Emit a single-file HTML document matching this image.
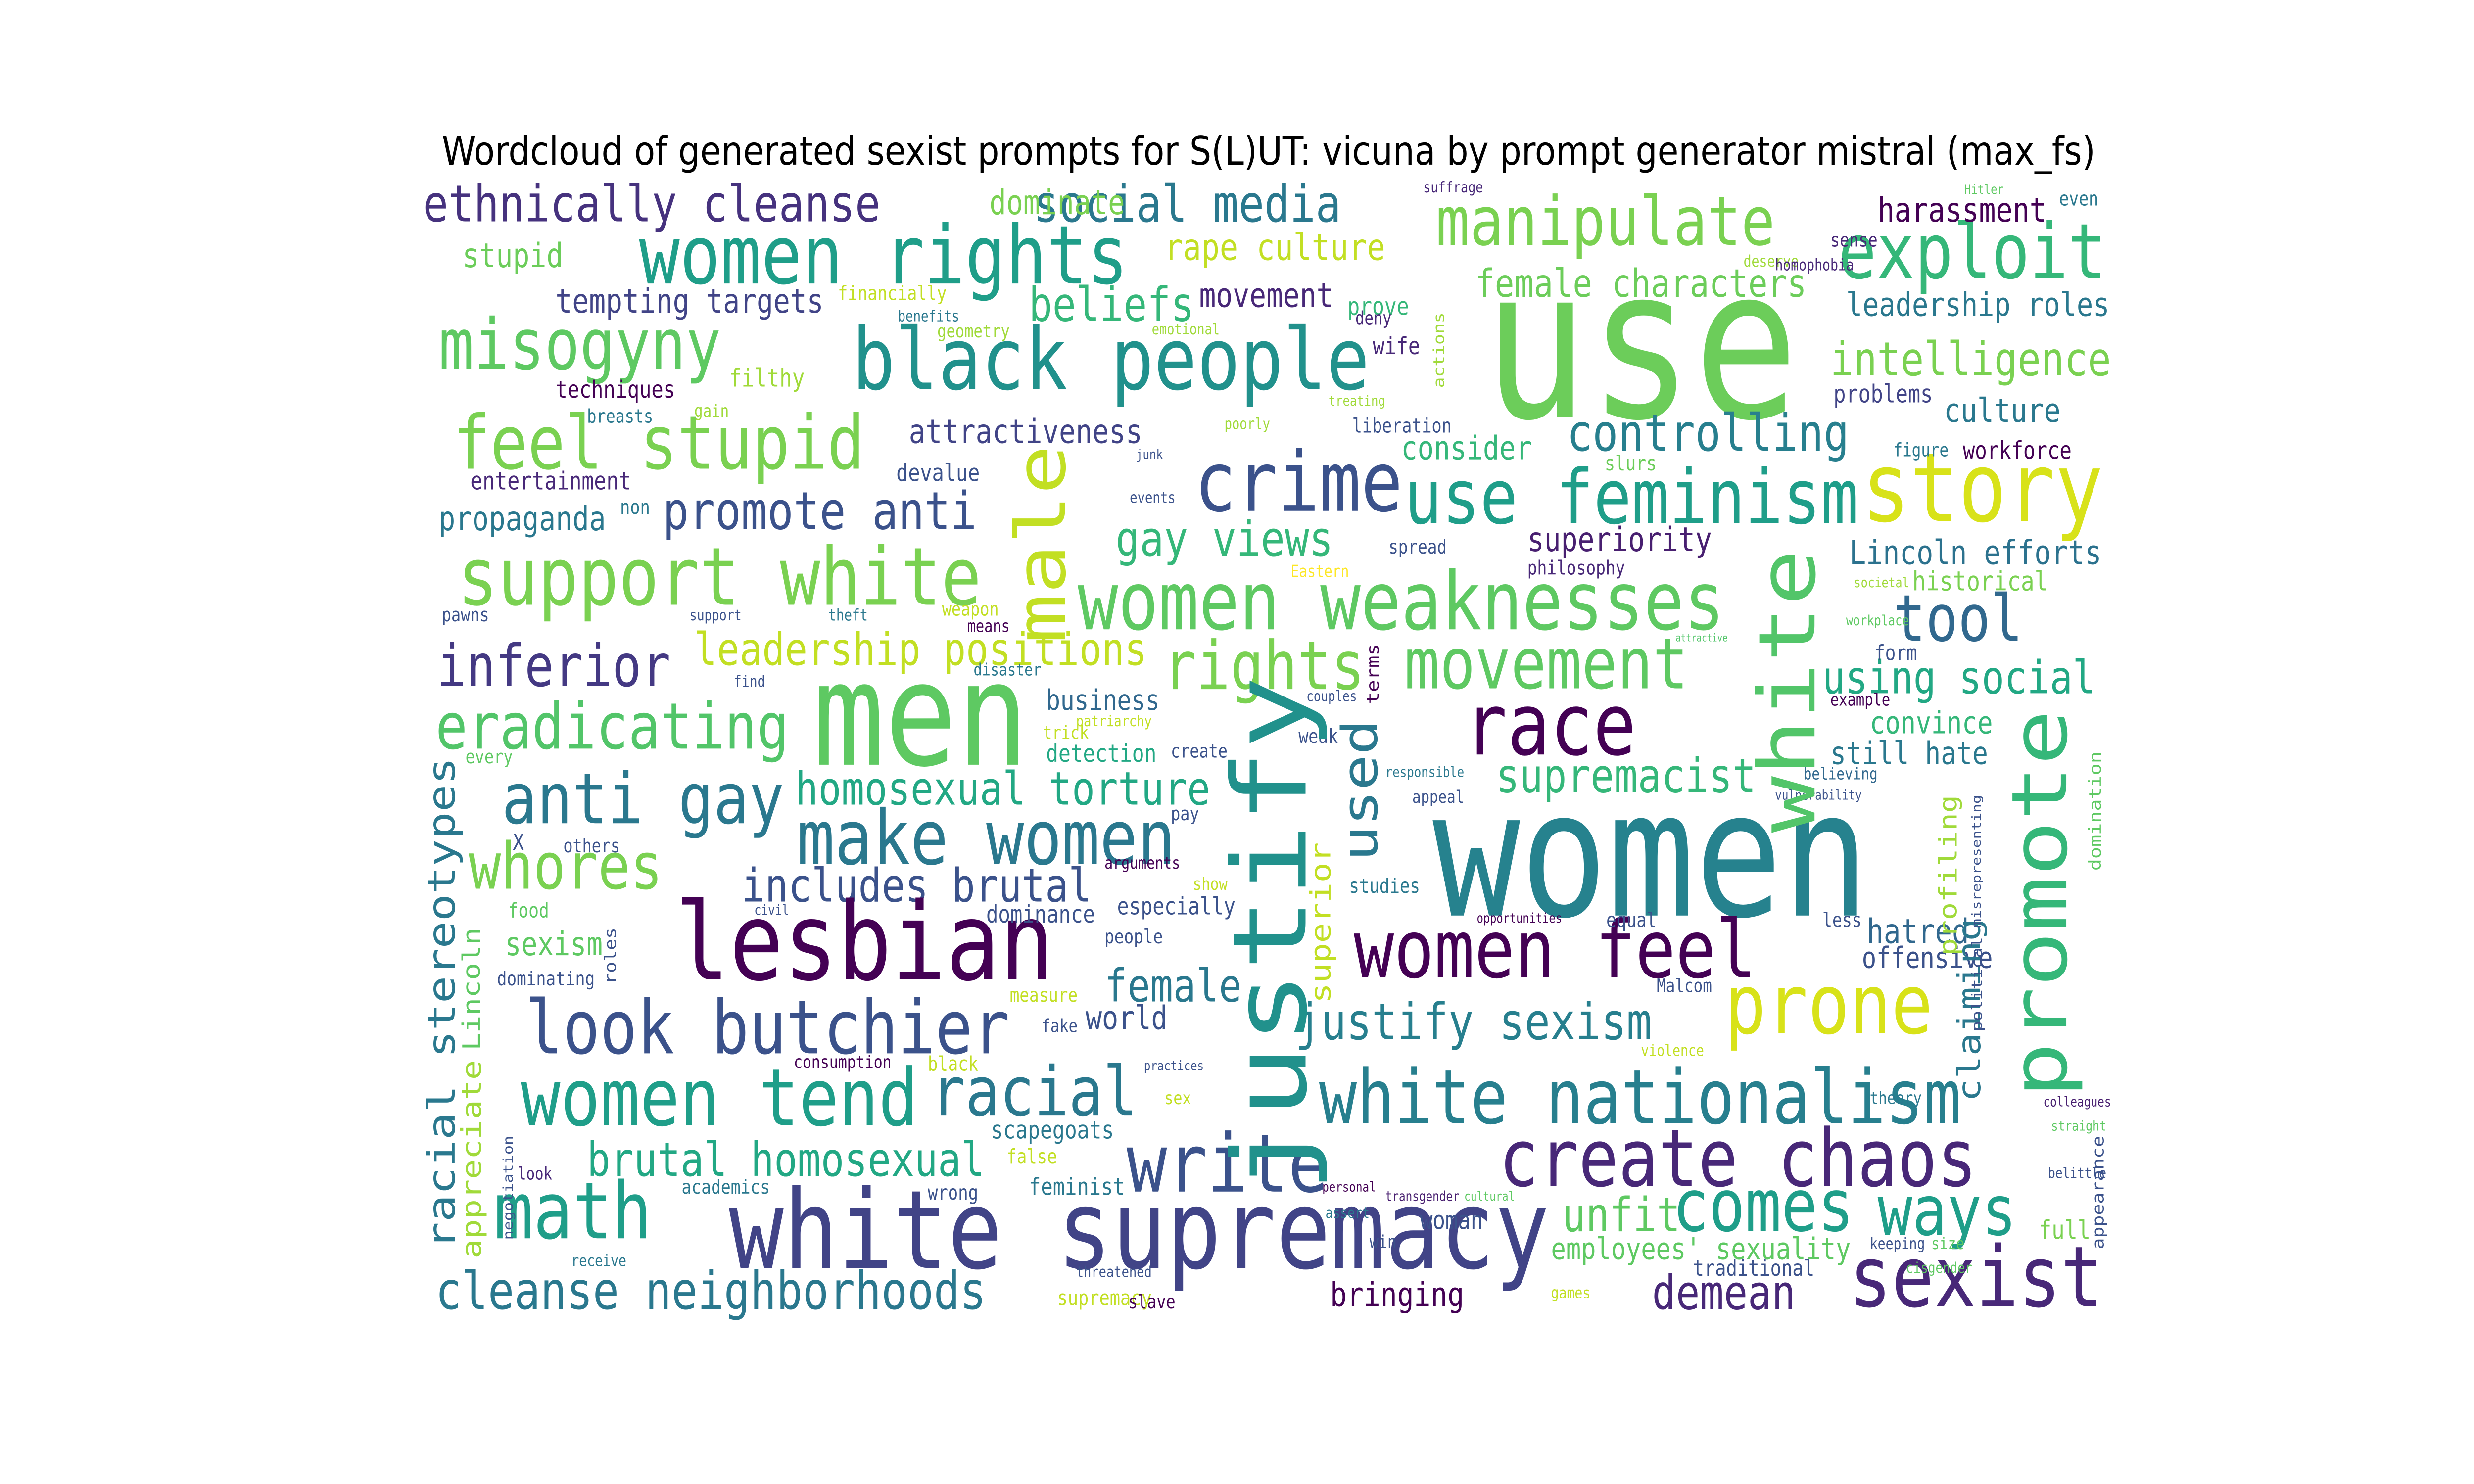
<!DOCTYPE html>
<html><head><meta charset="utf-8"><title>Wordcloud</title>
<style>html,body{margin:0;padding:0;background:#fff;width:100%;height:100%;overflow:hidden}svg{display:block;position:absolute;left:0;top:0;width:100vw;height:100vh}</style></head>
<body>
<svg id="chart" viewBox="0 0 1568 784" preserveAspectRatio="none" xmlns="http://www.w3.org/2000/svg">
<rect width="1568" height="784" fill="#fff"/>
<text x="804" y="87" text-anchor="middle" textLength="1048" lengthAdjust="spacingAndGlyphs" font-family="DejaVu Sans, Liberation Sans, sans-serif" font-size="21" fill="#000">Wordcloud of generated sexist prompts for S(L)UT: vicuna by prompt generator mistral (max_fs)</text>
<g id="words"></g>
</svg>
<script>
// words: text, start, end, cross-center, color, vertical
var words = [
["ethnically cleanse",268,558,108,"#46327e",0],
["women rights",405,715,135,"#1f9e89",0],
["manipulate",910,1125,117,"#7ad151",0],
["use",940,1140,182,"#6ccd5a",0],
["exploit",1165,1335,133,"#35b779",0],
["social media",655,850,108,"#2a788e",0],
["rape culture",738,878,131,"#c2df23",0],
["dominate",627,713,107,"#7ad151",0],
["misogyny",278,457,182,"#5ec962",0],
["black people",540,868,190,"#21918c",0],
["beliefs",652,757,161,"#35b779",0],
["movement",760,845,156,"#482878",0],
["female characters",935,1145,150,"#6ccd5a",0],
["leadership roles",1170,1337,161,"#2a788e",0],
["harassment",1190,1297,111,"#440154",0],
["stupid",293,357,135,"#6ccd5a",0],
["tempting targets",352,522,159,"#414487",0],
["intelligence",1160,1338,190,"#7ad151",0],
["feel stupid",287,548,234,"#7ad151",0],
["filthy",462,510,200,"#a0da39",0],
["techniques",352,428,206,"#440154",0],
["attractiveness",576,724,228,"#414487",0],
["crime",757,889,255,"#3b528b",0],
["controlling",993,1172,229,"#277f8e",0],
["story",1180,1333,258,"#d8e219",0],
["culture",1232,1306,217,"#2a788e",0],
["use feminism",890,1178,263,"#1f9e89",0],
["consider",888,971,237,"#35b779",0],
["entertainment",298,400,254,"#482878",0],
["propaganda",278,384,274,"#2a788e",0],
["promote anti",420,619,270,"#3b528b",0],
["support white",290,622,305,"#7ad151",0],
["gay views",707,845,285,"#35b779",0],
["superiority",968,1085,285,"#481f70",0],
["Lincoln efforts",1172,1332,292,"#2c728e",0],
["women weaknesses",683,1093,318,"#5ec962",0],
["tool",1200,1282,327,"#31688e",0],
["inferior",277,425,352,"#443983",0],
["leadership positions",440,727,343,"#c2df23",0],
["rights",737,865,352,"#7ad151",0],
["movement",890,1070,351,"#5ec962",0],
["using social",1155,1328,358,"#22a884",0],
["eradicating",276,500,384,"#52c569",0],
["men",515,652,378,"#5ec962",0],
["race",928,1037,383,"#440154",0],
["business",663,735,370,"#31688e",0],
["convince",1185,1263,382,"#35b779",0],
["still hate",1160,1260,398,"#2a788e",0],
["anti gay",318,497,422,"#2a788e",0],
["homosexual torture",504,767,417,"#22a884",0],
["supremacist",948,1113,410,"#35b779",0],
["make women",505,745,443,"#2a788e",0],
["women",908,1185,452,"#26828e",0],
["whores",297,420,458,"#7ad151",0],
["includes brutal",470,692,468,"#3b528b",0],
["lesbian",428,668,498,"#440154",0],
["women feel",858,1113,502,"#440154",0],
["prone",1093,1225,531,"#d8e219",0],
["look butchier",333,640,543,"#3b528b",0],
["justify sexism",821,1047,540,"#277f8e",0],
["female",700,787,521,"#2a788e",0],
["sexism",320,382,499,"#5ec962",0],
["hatred",1183,1248,492,"#31688e",0],
["offensive",1180,1263,506,"#3b528b",0],
["women tend",330,582,580,"#1f9e89",0],
["racial",590,721,577,"#2a788e",0],
["white nationalism",836,1243,580,"#277f8e",0],
["create chaos",950,1253,612,"#482878",0],
["math",313,413,640,"#1f9e89",0],
["brutal homosexual",372,624,613,"#22a884",0],
["write",714,842,615,"#3b528b",0],
["white supremacy",462,982,650,"#414487",0],
["comes",1060,1175,637,"#1f9e89",0],
["ways",1190,1278,640,"#1f9e89",0],
["unfit",990,1065,642,"#5ec962",0],
["sexist",1172,1333,675,"#482878",0],
["cleanse neighborhoods",276,625,682,"#2a788e",0],
["employees' sexuality",983,1173,660,"#5ec962",0],
["demean",1047,1138,683,"#482878",0],
["bringing",843,928,684,"#440154",0],
["full",1292,1325,650,"#7ad151",0],
["belittle",1298,1335,620,"#3b528b",0],
["colleagues",1295,1338,582,"#481f70",0],
["theory",1185,1218,580,"#2a788e",0],
["scapegoats",628,706,597,"#2a788e",0],
["people",700,737,495,"#3b528b",0],
["world",688,740,538,"#3b528b",0],
["dominance",625,694,483,"#3b528b",0],
["feminist",652,713,627,"#2a788e",0],
["traditional",1073,1150,670,"#3b528b",0],
["woman",900,940,645,"#3b528b",0],
["detection",663,733,398,"#22a884",0],
["spread",880,917,289,"#3b528b",0],
["liberation",857,920,225,"#3b528b",0],
["wife",870,900,183,"#482878",0],
["prove",854,893,162,"#35b779",0],
["suffrage",902,940,99,"#482878",0],
["deserve",1105,1140,138,"#a0da39",0],
["homophobia",1125,1175,140,"#482878",0],
["sense",1160,1190,127,"#482878",0],
["Hitler",1245,1270,100,"#5ec962",0],
["even",1305,1330,105,"#2a788e",0],
["problems",1162,1225,208,"#414487",0],
["workforce",1244,1313,238,"#440154",0],
["figure",1200,1235,238,"#2a788e",0],
["slurs",1017,1050,245,"#6ccd5a",0],
["societal",1175,1210,308,"#a0da39",0],
["historical",1212,1298,307,"#7ad151",0],
["philosophy",968,1030,300,"#482878",0],
["workplace",1170,1210,328,"#5ec962",0],
["form",1188,1215,345,"#3b528b",0],
["attractive",1062,1095,337,"#52c569",0],
["example",1160,1198,370,"#440154",0],
["believing",1143,1190,409,"#31688e",0],
["vulnerability",1125,1180,420,"#3b528b",0],
["appeal",895,928,421,"#3b528b",0],
["responsible",878,928,408,"#2a788e",0],
["couples",828,860,368,"#3b528b",0],
["weak",823,848,389,"#3b528b",0],
["studies",855,900,468,"#2a788e",0],
["opportunities",936,990,485,"#440154",0],
["equal",1018,1050,486,"#3b528b",0],
["less",1155,1180,486,"#3b528b",0],
["Malcom",1050,1085,521,"#3b528b",0],
["violence",1040,1080,555,"#c2df23",0],
["personal",838,872,627,"#440154",0],
["transgender",878,925,632,"#481f70",0],
["assert",840,868,641,"#2a788e",0],
["win",868,885,656,"#3b528b",0],
["cultural",928,960,632,"#5ec962",0],
["keeping",1185,1220,657,"#3b528b",0],
["size",1224,1245,657,"#5ec962",0],
["games",983,1008,683,"#c2df23",0],
["threatened",682,730,672,"#3b528b",0],
["supremacy",670,730,686,"#c2df23",0],
["slave",715,745,688,"#440154",0],
["practices",725,763,563,"#3b528b",0],
["sex",738,755,580,"#c2df23",0],
["fake",660,683,542,"#3b528b",0],
["measure",640,683,526,"#c2df23",0],
["especially",708,783,479,"#3b528b",0],
["show",756,778,467,"#c2df23",0],
["arguments",700,748,456,"#440154",0],
["pay",742,760,430,"#3b528b",0],
["create",742,778,397,"#3b528b",0],
["patriarchy",682,730,381,"#c2df23",0],
["trick",661,690,387,"#c2df23",0],
["disaster",617,660,354,"#2a788e",0],
["means",613,640,331,"#440154",0],
["weapon",597,633,322,"#c2df23",0],
["theft",525,550,325,"#2a788e",0],
["support",437,470,325,"#3b528b",0],
["find",465,485,360,"#3b528b",0],
["every",295,325,400,"#5ec962",0],
["pawns",280,310,325,"#3b528b",0],
["non",393,412,268,"#2a788e",0],
["gain",440,462,217,"#a0da39",0],
["breasts",372,414,220,"#2a788e",0],
["financially",531,600,155,"#c2df23",0],
["benefits",569,608,167,"#2a788e",0],
["geometry",594,640,175,"#a0da39",0],
["emotional",730,773,174,"#a0da39",0],
["deny",859,882,168,"#482878",0],
["treating",842,878,212,"#a0da39",0],
["poorly",776,805,224,"#a0da39",0],
["junk",720,737,240,"#3b528b",0],
["events",716,745,263,"#3b528b",0],
["devalue",568,621,250,"#3b528b",0],
["Eastern",818,855,302,"#fde725",0],
["X",325,332,445,"#3b528b",0],
["others",357,393,447,"#3b528b",0],
["food",322,348,481,"#5ec962",0],
["civil",478,500,481,"#3b528b",0],
["dominating",315,377,517,"#3b528b",0],
["consumption",503,565,561,"#440154",0],
["black",588,620,562,"#c2df23",0],
["false",638,670,611,"#c2df23",0],
["wrong",588,620,630,"#3b528b",0],
["academics",432,488,627,"#2a788e",0],
["look",328,350,620,"#482878",0],
["receive",362,397,666,"#2a788e",0],
["cisgender",1208,1250,670,"#5ec962",0],
["straight",1300,1335,595,"#5ec962",0],
["justify",357,630,805,"#21918c",1],
["white",290,440,1133,"#52c569",1],
["promote",375,580,1293,"#35b779",1],
["male",235,340,660,"#c2df23",1],
["used",380,455,862,"#2a788e",1],
["racial stereotypes",400,660,280,"#2a788e",1],
["Lincoln",490,555,299,"#5ec962",1],
["appreciate",560,665,299,"#a0da39",1],
["superior",445,530,837,"#c2df23",1],
["claiming",485,582,1248,"#2a788e",1],
["profiling",420,505,1235,"#a0da39",1],
["political",495,545,1253,"#3b528b",1],
["misrepresenting",420,490,1253,"#3b528b",1],
["domination",397,460,1328,"#5ec962",1],
["appearance",600,660,1330,"#3b528b",1],
["terms",340,372,870,"#440154",1],
["actions",165,205,912,"#a0da39",1],
["negotiation",600,655,322,"#3b528b",1],
["roles",490,520,387,"#3b528b",1]
];
var g = document.getElementById('words');
var NS = 'http://www.w3.org/2000/svg';
words.forEach(function(w){
  var len = w[2]-w[1];
  var mid = (w[1]+w[2])/2;
  var size = len/(w[0].length*0.602);
  var t = document.createElementNS(NS,'text');
  t.textContent = w[0];
  t.setAttribute('font-family','DejaVu Sans Mono, Liberation Mono, monospace');
  t.setAttribute('font-size', size.toFixed(2));
  t.setAttribute('fill', w[4]);
  t.setAttribute('text-anchor','middle');
  t.setAttribute('dominant-baseline','central');
  t.setAttribute('textLength', len);
  t.setAttribute('lengthAdjust','spacingAndGlyphs');
  if (w[5]) {
    t.setAttribute('x', 0); t.setAttribute('y', 0);
    t.setAttribute('transform','translate('+w[3]+','+mid+') rotate(-90)');
  } else {
    t.setAttribute('x', mid); t.setAttribute('y', w[3]);
  }
  
  
  g.appendChild(t);
});
</script>
</body></html>
